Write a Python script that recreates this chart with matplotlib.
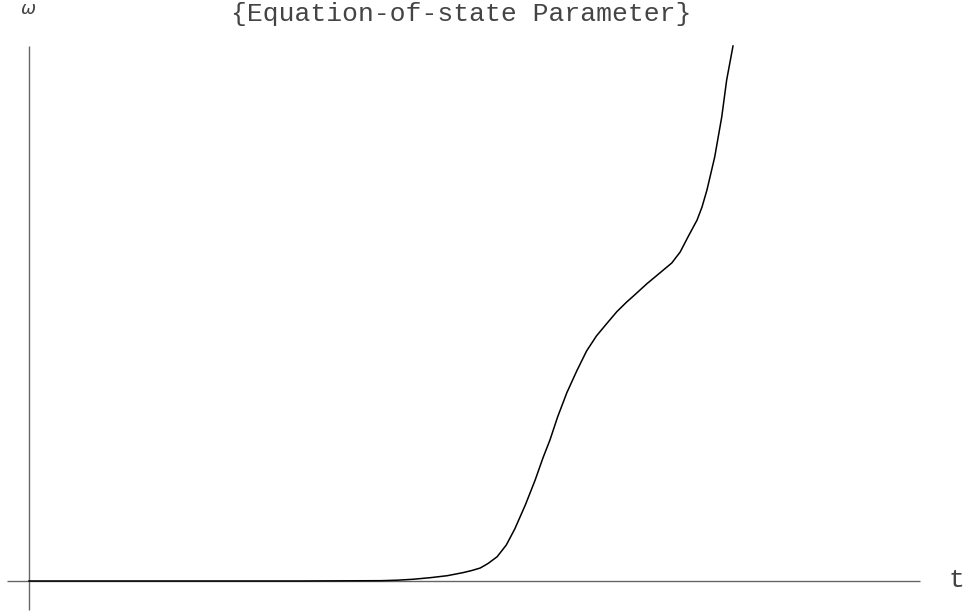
import matplotlib
matplotlib.use("Agg")
import matplotlib.pyplot as plt
import numpy as np

# curve (t in arbitrary units, omega normalised)
t_vals = [0.0, 3.85, 5.0, 5.23, 5.45, 5.70, 5.94, 6.16, 6.29, 6.41, 6.52,
          6.65, 6.78, 6.90, 7.05, 7.19, 7.30, 7.40, 7.51, 7.64, 7.78, 7.92,
          8.06, 8.21, 8.35, 8.49, 8.58, 8.78, 8.96, 9.13, 9.25, 9.36, 9.49,
          9.56, 9.63, 9.74, 9.84, 9.91, 10.0]
w_vals = [0.0, 0.0, 0.0006, 0.0015, 0.0032, 0.0062, 0.0099, 0.0155, 0.0196,
          0.0243, 0.0327, 0.0454, 0.0673, 0.0972, 0.1421, 0.1888, 0.2299,
          0.2636, 0.3071, 0.3520, 0.3925, 0.4299, 0.4580, 0.4817, 0.5034,
          0.5215, 0.5320, 0.5560, 0.5757, 0.5944, 0.6150, 0.6430, 0.6748,
          0.6991, 0.7308, 0.7925, 0.8673, 0.9364, 1.0]

title = "{Equation-of-state Parameter}"
x_label = "t"
y_label = "\u03c9"

# pixel mapping: 70.4 px per t unit, 535 px per omega unit, origin at (29, 581)
px_t = 70.4
px_w = 535.0
W, H = 966, 615
ox, oy = 29, 581

fig = plt.figure(figsize=(W / 100, H / 100), dpi=100)
ax = fig.add_axes([0, 0, 1, 1])
ax.set_xlim(-ox / px_t, (W - ox) / px_t)
ax.set_ylim(-(H - oy) / px_w, oy / px_w)
ax.axis("off")

# axes drawn as plain lines crossing at the origin
axis_kw = dict(color="#666666", lw=1.0, solid_capstyle="butt")
ax.plot([(7 - ox) / px_t, (920 - ox) / px_t], [0, 0], **axis_kw)
ax.plot([0, 0], [-(610 - oy) / px_w, (oy - 46) / px_w], **axis_kw)

ax.plot(t_vals, w_vals, color="black", lw=1.1)

txt_kw = dict(family="Liberation Mono", fontsize=19, ha="center",
              va="center", color="#444444")
fig.text(461 / W, 1 - 14 / H, title, **txt_kw)
fig.text(956 / W, 1 - 580 / H, x_label, **txt_kw)
fig.text(28 / W, 1 - 9 / H, y_label, family="DejaVu Sans", style="italic",
         fontsize=13, ha="center", va="center", color="#444444")

fig.savefig("out.png", dpi=100)
